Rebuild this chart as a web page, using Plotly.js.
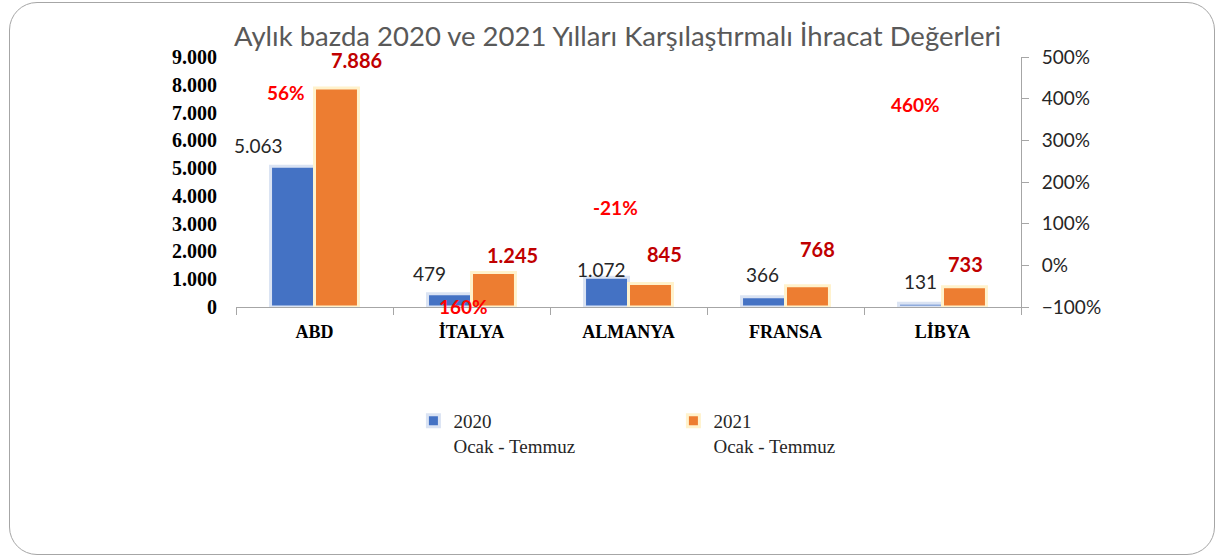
<!DOCTYPE html>
<html>
<head>
<meta charset="utf-8">
<script src="https://cdn.plot.ly/plotly-3.0.1.min.js"></script>
<style>
  html, body { margin: 0; padding: 0; background: #ffffff; }
  #chart { position: absolute; left: 0; top: 0; width: 1219px; height: 558px; }
  #frame { position: absolute; left: 9px; top: 2px; width: 1206px; height: 553px;
           border: 1px solid #a6a6a6; border-radius: 28px; pointer-events: none; box-sizing: border-box; }
</style>
</head>
<body>
<div id="chart"></div>
<div id="frame"></div>
<script>
// ---- data ----
const categories = ['ABD', 'İTALYA', 'ALMANYA', 'FRANSA', 'LİBYA'];
const values2020 = [5063, 479, 1072, 366, 131];
const values2021 = [7886, 1245, 845, 768, 733];
const changePct = [56, 160, -21, 110, 460];
const seriesNames = ['2020<br>Ocak - Temmuz', '2021<br>Ocak - Temmuz'];

// ---- label placement (as dragged in the original, in axis units / px) ----
const pctLabelLevel = [414, -98, 138, -258, 387];     // y2 level where each % label sits
const pctLabelDx = [-29, -8, -13, -14, -27];
const lab2020Dx = [-34, -20, -5, -1, 0];
const lab2020Dy = [21, 20, 8, 22, 22];
const lab2021Dx = [20, 19, 14, 10, 1];
const lab2021Dy = [28, 17, 30, 37, 23];

const fmt = v => v.toLocaleString('de-DE');

const traces = [
  {
    type: 'bar', x: categories, y: values2020, name: seriesNames[0],
    marker: { color: '#4472C4', line: { color: '#DAE3F3', width: 3 } },
    hoverinfo: 'skip'
  },
  {
    type: 'bar', x: categories, y: values2021, name: seriesNames[1],
    marker: { color: '#ED7D31', line: { color: '#FFF2CC', width: 3 } },
    hoverinfo: 'skip'
  },
  {
    type: 'scatter', mode: 'markers', x: categories, y: changePct, yaxis: 'y2',
    marker: { opacity: 0 }, showlegend: false, hoverinfo: 'skip'
  }
];

const annotations = [];
categories.forEach((c, i) => {
  annotations.push({
    x: c, y: values2020[i], xref: 'x', yref: 'y', text: fmt(values2020[i]),
    showarrow: false, xshift: -22 + lab2020Dx[i], yshift: lab2020Dy[i], yanchor: 'middle',
    font: { family: 'Lato, sans-serif', size: 19, color: '#262626' }
  });
  annotations.push({
    x: c, y: values2021[i], xref: 'x', yref: 'y', text: fmt(values2021[i]),
    showarrow: false, xshift: 22 + lab2021Dx[i], yshift: lab2021Dy[i], yanchor: 'middle',
    font: { family: 'Lato, sans-serif', size: 20, color: '#C00000', weight: 'bold' }
  });
  annotations.push({
    x: c, y: pctLabelLevel[i], xref: 'x', yref: 'y2', text: changePct[i] + '%',
    showarrow: false, xshift: pctLabelDx[i], yanchor: 'middle',
    font: { family: 'Lato, sans-serif', size: 19, color: '#FF0000', weight: 'bold' }
  });
});

const layout = {
  width: 1219, height: 558,
  margin: { l: 236, r: 198, t: 57, b: 251 },
  paper_bgcolor: 'rgba(0,0,0,0)', plot_bgcolor: 'rgba(0,0,0,0)',
  separators: ',.',
  title: {
    text: 'Aylık bazda 2020 ve 2021 Yılları Karşılaştırmalı İhracat Değerleri',
    x: 0.5066, xanchor: 'center', xref: 'container',
    y: 1 - 36 / 558, yanchor: 'middle', yref: 'container',
    font: { family: 'Lato, sans-serif', size: 27.5, color: '#595959' }
  },
  barmode: 'group', bargap: 0.44, bargroupgap: 0,
  xaxis: {
    type: 'category', range: [-0.5, categories.length - 0.5], autorange: false,
    tickson: 'boundaries', ticks: 'outside', ticklen: 7, tickcolor: '#a6a6a6',
    showline: true, linecolor: '#a6a6a6', linewidth: 1, automargin: false,
    ticklabelstandoff: 8,
    tickfont: { family: 'Liberation Serif, serif', size: 18, color: '#000000', weight: 'bold' },
    showgrid: false, zeroline: false
  },
  yaxis: {
    range: [0, 9000], dtick: 1000, tickformat: ',d', automargin: false,
    showgrid: false, zeroline: false, showline: false,
    ticks: 'outside', ticklen: 14, tickcolor: 'rgba(0,0,0,0)',
    tickfont: { family: 'Liberation Serif, serif', size: 20, color: '#000000', weight: 'bold' }
  },
  yaxis2: {
    overlaying: 'y', side: 'right', range: [-100, 500], dtick: 100, ticksuffix: '%',
    showgrid: false, zeroline: false, showline: true, linecolor: '#a6a6a6', automargin: false,
    ticks: 'outside', ticklen: 7, tickcolor: '#a6a6a6', ticklabelstandoff: 9,
    tickfont: { family: 'Lato, sans-serif', size: 19, color: '#262626' }
  },
  showlegend: true,
  legend: {
    orientation: 'h', x: 0.226, xanchor: 'left', y: -0.38, yanchor: 'top',
    entrywidth: 215, entrywidthmode: 'pixels', valign: 'top',
    font: { family: 'Liberation Serif, serif', size: 19, color: '#262626' },
    bgcolor: 'rgba(0,0,0,0)'
  },
  annotations: annotations
};

Plotly.newPlot('chart', traces, layout, { displayModeBar: false, staticPlot: true });
</script>
</body>
</html>
